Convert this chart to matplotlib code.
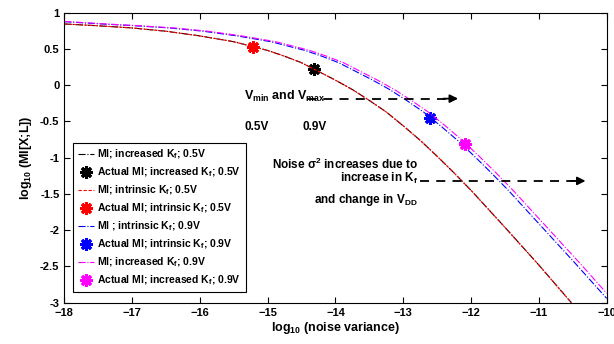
import matplotlib
matplotlib.use('Agg')
import matplotlib.pyplot as plt

plt.rcParams['font.family'] = ['Liberation Sans', 'DejaVu Sans']
plt.rcParams['font.weight'] = 'bold'
plt.rcParams['mathtext.fontset'] = 'custom'
plt.rcParams['mathtext.rm'] = 'Liberation Sans:bold'
plt.rcParams['mathtext.it'] = 'DejaVu Sans:italic'
plt.rcParams['mathtext.bf'] = 'Liberation Sans:bold'
plt.rcParams['mathtext.default'] = 'rm'

# log10(noise variance) vs log10(MI)
x_05 = [-18.0, -17.5, -17.0, -16.5, -16.0, -15.5, -15.25, -15.0, -14.75, -14.5,
        -14.25, -14.0, -13.75, -13.5, -13.25, -13.0, -12.75, -12.5, -12.25, -12.0,
        -11.5, -11.0, -10.52]
y_05 = [0.845, 0.82, 0.79, 0.745, 0.68, 0.60, 0.54, 0.48, 0.40, 0.31,
        0.19, 0.07, -0.06, -0.21, -0.37, -0.56, -0.76, -0.98, -1.21, -1.45,
        -1.96, -2.48, -3.0]

x_09_int = [-18.0, -17.45, -16.95, -16.45, -15.95, -15.45, -14.95, -14.7, -14.45, -14.2,
            -13.95, -13.7, -13.45, -13.2, -12.95, -12.7, -12.45, -12.2, -11.95, -11.7,
            -11.45, -10.95, -10.45, -10.0]
y_09_int = [0.876, 0.845, 0.82, 0.79, 0.745, 0.68, 0.60, 0.54, 0.48, 0.40,
            0.31, 0.19, 0.07, -0.06, -0.21, -0.37, -0.56, -0.76, -0.98, -1.21,
            -1.45, -1.96, -2.47, -2.94]

x_09_inc = [-18.0, -17.38, -16.88, -16.38, -15.88, -15.38, -14.88, -14.63, -14.38, -14.13,
            -13.88, -13.63, -13.38, -13.13, -12.88, -12.63, -12.38, -12.13, -11.88, -11.63,
            -11.38, -10.88, -10.38, -10.0]
y_09_inc = [0.88, 0.845, 0.82, 0.79, 0.745, 0.68, 0.60, 0.54, 0.48, 0.40,
            0.31, 0.19, 0.07, -0.06, -0.21, -0.37, -0.56, -0.76, -0.98, -1.21,
            -1.45, -1.96, -2.47, -2.87]

# actual operating points
pt_inc_05 = (-14.32, 0.22)
pt_int_05 = (-15.22, 0.53)
pt_int_09 = (-12.61, -0.45)
pt_inc_09 = (-12.09, -0.81)

xticks = [-18, -17, -16, -15, -14, -13, -12, -11, -10]
yticks = [-3, -2.5, -2, -1.5, -1, -0.5, 0, 0.5, 1]

fig = plt.figure(figsize=(6.14, 3.44), dpi=100)
ax = fig.add_axes([0.1047, 0.120, 0.8833, 0.843])

star = (8, 2, 0)
ms = 9
mew = 2.2

ax.plot(x_05, y_05, color='black', ls='-.', lw=0.8, label='MI; increased K$_f$; 0.5V')
ax.plot(*pt_inc_05, ls='none', marker=star, ms=ms, mew=mew, color='black',
        label='Actual MI; increased K$_f$; 0.5V')
ax.plot(x_05, y_05, color='red', ls=(0, (3, 1.5)), lw=0.8, label='MI; intrinsic K$_f$; 0.5V')
ax.plot(*pt_int_05, ls='none', marker=star, ms=ms, mew=mew, color='red',
        label='Actual MI; intrinsic K$_f$; 0.5V')
ax.plot(x_09_int, y_09_int, color='blue', ls='-.', lw=0.8, label='MI ; intrinsic K$_f$; 0.9V')
ax.plot(*pt_int_09, ls='none', marker=star, ms=ms, mew=mew, color='blue',
        label='Actual MI; intrinsic K$_f$; 0.9V')
ax.plot(x_09_inc, y_09_inc, color='magenta', ls='-.', lw=0.8, label='MI; increased K$_f$; 0.9V')
ax.plot(*pt_inc_09, ls='none', marker=star, ms=ms, mew=mew, color='magenta',
        label='Actual MI; increased K$_f$; 0.9V')

ax.set_xlim(-18, -10)
ax.set_ylim(-3, 1)
ax.set_xticks(xticks)
ax.set_yticks(yticks)
ax.set_yticklabels(['-3', '-2.5', '-2', '-1.5', '-1', '-0.5', '0', '0.5', '1'])
ax.tick_params(direction='in', top=True, right=True, labelsize=8, length=4, width=0.8)
for s in ax.spines.values():
    s.set_linewidth(0.8)

ax.set_xlabel('log$_{10}$ (noise variance)', fontsize=9, fontweight='bold', labelpad=2)
ax.set_ylabel('log$_{10}$ (MI[X;L])', fontsize=9, fontweight='bold', labelpad=4)

leg = ax.legend(loc='lower left', bbox_to_anchor=(0.016, 0.037), borderaxespad=0,
                fontsize=7.5, handlelength=1.6, handletextpad=0.3, labelspacing=0.42,
                fancybox=False, edgecolor='black', framealpha=1, borderpad=0.45)
leg.get_frame().set_linewidth(0.8)

# annotations
ax.text(-15.35, -0.16, 'V$_{min}$ and V$_{max}$', fontsize=9, fontweight='bold',
        ha='left', va='center')
ax.text(-15.34, -0.58, '0.5V', fontsize=8.5, fontweight='bold', ha='left', va='center')
ax.text(-14.49, -0.58, '0.9V', fontsize=8.5, fontweight='bold', ha='left', va='center')
ax.plot([-14.42, -12.35], [-0.185, -0.185], color='black', ls=(0, (5, 4)), lw=1.3)
ax.annotate('', xy=(-12.15, -0.185), xytext=(-12.45, -0.185),
            arrowprops=dict(arrowstyle='-|>', color='black', lw=1.3, mutation_scale=12))

ax.text(-12.78, -1.09, 'Noise $\\sigma^2$ increases due to', fontsize=8.5, fontweight='bold',
        ha='right', va='center')
ax.text(-12.78, -1.29, 'increase in K$_f$', fontsize=8.5, fontweight='bold',
        ha='right', va='center')
ax.text(-12.78, -1.59, 'and change in V$_{DD}$', fontsize=8.5, fontweight='bold',
        ha='right', va='center')
ax.plot([-12.76, -10.45], [-1.32, -1.32], color='black', ls=(0, (5, 4)), lw=1.3)
ax.annotate('', xy=(-10.27, -1.32), xytext=(-10.57, -1.32),
            arrowprops=dict(arrowstyle='-|>', color='black', lw=1.3, mutation_scale=12))

fig.savefig('out.png', dpi=100)
